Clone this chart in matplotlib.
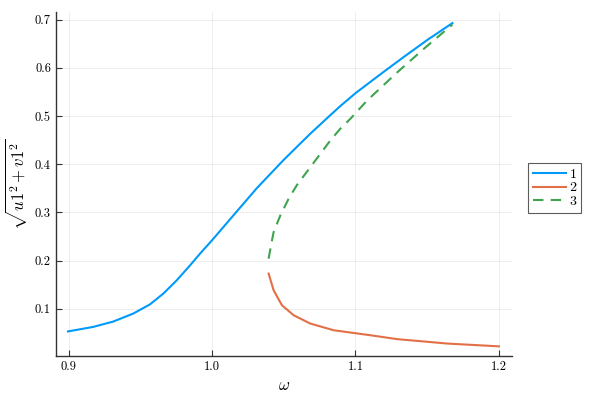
import matplotlib
matplotlib.use("Agg")
import matplotlib.pyplot as plt

plt.rcParams['font.family'] = ['cmr10', 'DejaVu Serif']
plt.rcParams['mathtext.fontset'] = 'cm'
plt.rcParams['axes.unicode_minus'] = False

# branch 1
w1 = [0.8995, 0.917, 0.931, 0.945, 0.9566, 0.966, 0.9753, 0.9846, 0.9916, 1.0002, 1.0149,
      1.0313, 1.0499, 1.0685, 1.0825, 1.0895, 1.1002, 1.1175, 1.1338, 1.1501, 1.1676]
a1 = [0.053, 0.0623, 0.0734, 0.090, 0.109, 0.1315, 0.159, 0.190, 0.2145, 0.243, 0.294,
      0.3507, 0.409, 0.4635, 0.502, 0.521, 0.548, 0.587, 0.623, 0.658, 0.693]

# branch 2
w2 = [1.0394, 1.0429, 1.0487, 1.0569, 1.0685, 1.0848, 1.1105, 1.129, 1.164, 1.200]
a2 = [0.173, 0.1384, 0.1073, 0.0865, 0.0693, 0.0554, 0.045, 0.037, 0.0278, 0.022]

# branch 3 (dashed)
w3 = [1.0394, 1.0413, 1.0429, 1.0476, 1.0534, 1.0592, 1.0708, 1.0825, 1.0895, 1.0965,
      1.1082, 1.1292, 1.1478, 1.1676]
a3 = [0.204, 0.235, 0.259, 0.294, 0.3286, 0.357, 0.403, 0.4496, 0.474, 0.4946,
      0.5326, 0.591, 0.640, 0.690]

xticks = [0.9, 1.0, 1.1, 1.2]
yticks = [0.1, 0.2, 0.3, 0.4, 0.5, 0.6, 0.7]

fig = plt.figure(figsize=(6, 4), dpi=100)
ax = fig.add_axes([0.093, 0.111, 0.760, 0.859])

ax.plot(w1, a1, color='#009AFA', lw=1.5, label='1')
ax.plot(w2, a2, color='#E36F47', lw=1.5, label='2')
ax.plot(w3, a3, color='#3EA44E', lw=1.5, ls=(0, (5, 3.5)), label='3')

ax.set_xlim(0.891, 1.209)
ax.set_ylim(0.0028, 0.716)
ax.set_xticks(xticks)
ax.set_xticklabels(['%.1f' % t for t in xticks])
ax.set_yticks(yticks)
ax.set_yticklabels(['%.1f' % t for t in yticks])

ax.grid(True, color='black', alpha=0.08, lw=0.6)
for s in ['top', 'right']:
    ax.spines[s].set_visible(False)
for s in ['left', 'bottom']:
    ax.spines[s].set_color('#333333')
    ax.spines[s].set_linewidth(1.0)
ax.tick_params(direction='in', length=4, width=0.8, labelsize=9, colors='#333333', labelcolor='black')

ax.set_xlabel(r'$\omega$', fontsize=12)
ax.set_ylabel(r'$\sqrt{u1^2 + v1^2}$', fontsize=12)

leg = ax.legend(loc='center left', bbox_to_anchor=(1.035, 0.4876), fontsize=10, fancybox=False,
                edgecolor='#333333', handlelength=2.4, borderpad=0.35, labelspacing=0.05,
                handletextpad=0.25, borderaxespad=0)
leg.get_frame().set_linewidth(0.8)

fig.savefig('out.png', dpi=100)
